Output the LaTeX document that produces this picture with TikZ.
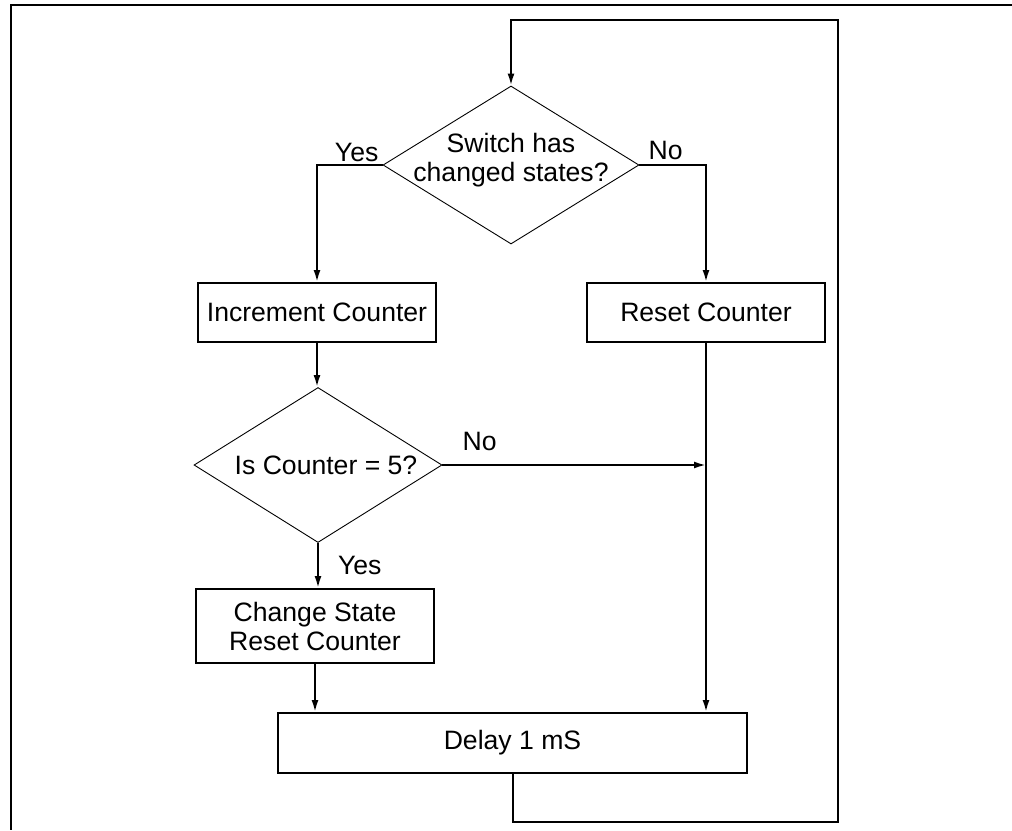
\documentclass[tikz,border=0pt]{standalone}
\usepackage{fontspec}
\setmainfont{Liberation Sans}
\usetikzlibrary{positioning, arrows.meta, shapes.geometric}

\begin{document}
\begin{tikzpicture}[
    x=1pt, y=1pt,
    font=\fontsize{26.6}{29}\selectfont,
    process/.style={rectangle, draw=black, line width=2pt, minimum width=238pt, minimum height=59pt, align=center},
    decision/.style={diamond, draw=black, line width=0.9pt, minimum width=256pt, minimum height=158pt, inner sep=0pt},
    lbl/.style={inner sep=0pt},
    flow/.style={line width=2pt, -{Latex[length=12pt, width=7pt]}}
]

\useasboundingbox (0,0) rectangle (1012,-830);

% Frame
\draw[line width=2.4pt] (1012,-5) -- (11,-5) -- (11,-830);

% Decisions
\node[decision] (dec1) at (511,-165) {};
\node[lbl, align=center] (dec1txt) at (511,-160) {Switch has\\changed states?};
\node[decision, minimum width=248pt, minimum height=155pt] (dec2) at (318,-465) {};
\node[lbl] (dec2txt) at (326,-465) {Is Counter = 5?};

% Processes
\node[process] (inc) at (317,-312.5) {Increment Counter};
\node[process] (reset) at (706,-312.5) {Reset Counter};
\node[process, minimum height=74pt] (chg) at (315,-626) {Change State\\Reset Counter};
\node[process, minimum width=469pt, minimum height=60pt] (delay) at (512.5,-743) {Delay 1 mS};

% Loop corners
\coordinate (loopbot) at (838,-822);
\coordinate (looptop) at (838,-20);

% Connectors
\draw[flow] (dec1.west) -| (inc.north);
\draw[flow] (dec1.east) -| (reset.north);
\draw[flow] (inc.south) -- (inc.south |- dec2.north);
\draw[flow] (dec2.east) -- (dec2.east -| reset.south);
\draw[flow] (reset.south) -- (reset.south |- delay.north);
\draw[flow] (dec2.south) -- node[lbl, right=19pt] (yes2) {Yes} (dec2.south |- chg.north);
\draw[flow] (chg.south) -- (chg.south |- delay.north);
\draw[flow] (delay.south) |- (loopbot) -- (looptop) -| (dec1.north);

% Labels
\node[lbl, above left=3pt and 4pt of dec1.west] (yes1) {Yes};
\node[lbl, above right=5pt and 9pt of dec1.east] (no1) {No};
\node[lbl, above right=14pt and 20pt of dec2.east] (no2) {No};

\end{tikzpicture}
\end{document}
